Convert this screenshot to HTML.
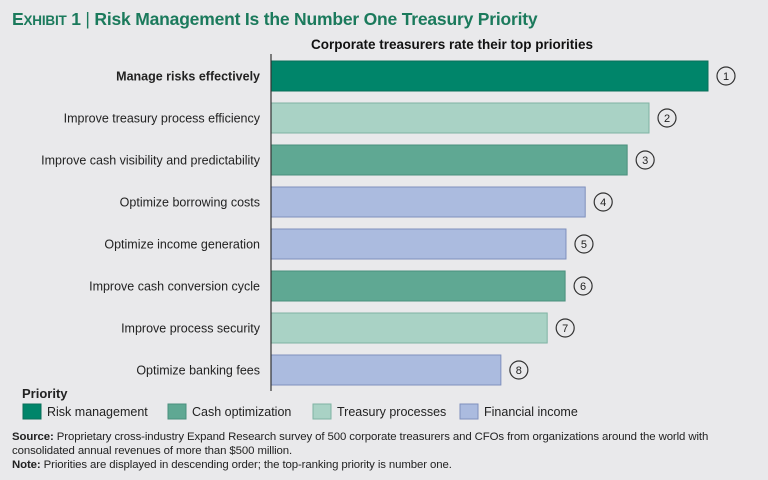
<!DOCTYPE html>
<html><head><meta charset="utf-8"><style>
body{margin:0;background:#e9e9eb;font-family:"Liberation Sans",sans-serif;}
#wrap{position:relative;width:768px;height:480px;overflow:hidden;background:#e9e9eb}
.t{position:absolute;white-space:nowrap}
</style></head><body>
<div id="wrap">
<div class="t" style="left:12px;top:9px;font-size:17.5px;font-weight:bold;color:#1b7a5c;letter-spacing:-0.2px">E<span style="font-size:13.5px">XHIBIT</span> 1 <span style="font-weight:normal">|</span> Risk Management Is the Number One Treasury Priority</div>
<svg id="chart" width="768" height="480" style="position:absolute;left:0;top:0"></svg>
<div class="t" style="left:22px;top:386px;font-size:13px;font-weight:bold;color:#222">Priority</div>
<div class="t" style="left:12px;top:430px;font-size:11.4px;line-height:14px;color:#222;letter-spacing:-0.1px"><b>Source:</b> Proprietary cross-industry Expand Research survey of 500 corporate treasurers and CFOs from organizations around the world with<br>consolidated annual revenues of more than $500 million.<br><b>Note:</b> Priorities are displayed in descending order; the top-ranking priority is number one.</div>
</div>
<script>
const categories=["Manage risks effectively","Improve treasury process efficiency","Improve cash visibility and predictability","Optimize borrowing costs","Optimize income generation","Improve cash conversion cycle","Improve process security","Optimize banking fees"];
const values=[100,86.5,81.5,71.9,67.5,67.3,63.2,52.6];
const groups=[0,2,1,3,3,1,2,3];
const ranks=["1","2","3","4","5","6","7","8"];
const legendNames=["Risk management","Cash optimization","Treasury processes","Financial income"];
const fills=["#00856a","#5fa893","#a9d2c5","#abbbdf"];
const strokes=["#0a6f5a","#4a8f7c","#7fb3a3","#7f90bd"];
const svg=document.getElementById('chart');const NS="http://www.w3.org/2000/svg";
function mk(t,a){const e=document.createElementNS(NS,t);for(const k in a)e.setAttribute(k,a[k]);svg.appendChild(e);return e;}
const x0=271,xLen=437;const x=v=>x0+v/100*xLen;
const y=i=>61+i*42;const bh=30;
const st=mk('text',{x:452,y:49,'text-anchor':'middle','font-size':13.5,'font-weight':'bold',fill:'#111'});st.textContent="Corporate treasurers rate their top priorities";


categories.forEach((c,i)=>{
 const r=mk('rect',{x:x0,y:y(i),width:x(values[i])-x0,height:bh,fill:fills[groups[i]],stroke:strokes[groups[i]],'stroke-width':1});
 
 
 const l=mk('text',{x:260,y:y(i)+bh/2+4.5,'text-anchor':'end','font-size':12.5,fill:'#222','font-weight':i==0?'bold':'normal'});l.textContent=c;
 
 
 const cx=x(values[i])+18;
 const ci=mk('circle',{cx:cx,cy:y(i)+bh/2,r:9,fill:'none',stroke:'#333','stroke-width':1.2});
 
 
 const n=mk('text',{x:cx,y:y(i)+bh/2+4,'text-anchor':'middle','font-size':11,fill:'#222'});n.textContent=ranks[i];
 
 
});
const ax=mk('line',{x1:x0,y1:54,x2:x0,y2:391,stroke:'#333','stroke-width':1.2});


const lx=[23,168,313,460];
legendNames.forEach((n,i)=>{
 const r=mk('rect',{x:lx[i],y:404,width:18,height:15,fill:fills[i],stroke:strokes[i]});
 
 
 const t=mk('text',{x:lx[i]+24,y:416,'font-size':12.5,fill:'#222'});t.textContent=n;
 
 
});
</script>
</body></html>
